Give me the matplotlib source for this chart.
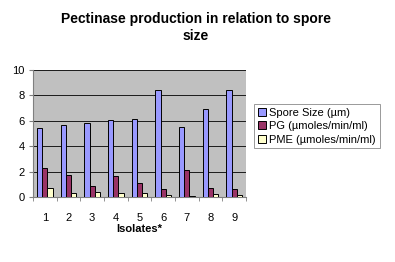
import matplotlib
matplotlib.use("Agg")
import matplotlib.pyplot as plt
import numpy as np

plt.rcParams['font.family'] = ['Liberation Sans', 'DejaVu Sans']

isolates = ['1', '2', '3', '4', '5', '6', '7', '8', '9']
spore_size = [5.45, 5.63, 5.81, 6.07, 6.18, 8.46, 5.5, 6.96, 8.46]
pg = [2.28, 1.73, 0.89, 1.62, 1.1, 0.6, 2.15, 0.73, 0.6]
pme = [0.68, 0.31, 0.39, 0.31, 0.31, 0.16, 0.08, 0.24, 0.16]
series_names = ['Spore Size (µm)', 'PG (µmoles/min/ml)', 'PME (µmoles/min/ml)']
colors = ['#9999ff', '#993366', '#ffffcc']

fig = plt.figure(figsize=(3.95, 2.62), dpi=100)
ax = fig.add_axes([33/395, 1 - 197/262, (246-33)/395, (197-70)/262])
ax.set_facecolor('#c0c0c0')

x = np.arange(len(isolates))
w = 0.22
for i, (vals, name, c) in enumerate(zip([spore_size, pg, pme], series_names, colors)):
    ax.bar(x + (i - 1) * w, vals, width=w, color=c, edgecolor='black', linewidth=0.7,
           label=name, zorder=3)

ax.set_xlim(-0.5, len(isolates) - 0.5)
ax.set_ylim(0, 10)
ax.set_yticks([0, 2, 4, 6, 8, 10])
ax.yaxis.grid(True, color='black', linewidth=0.6, zorder=0)
ax.set_axisbelow(True)
ax.set_xticks(x)
ax.set_xticklabels(isolates, fontsize=8)
ax.set_xticks(np.arange(len(isolates) + 1) - 0.5, minor=True)
ax.tick_params(axis='x', which='major', length=0, pad=11.5)
ax.tick_params(axis='x', which='minor', length=3, color='#808080')
ax.tick_params(axis='y', labelsize=8, length=3, color='#808080', pad=3)
for s in ['top', 'right']:
    ax.spines[s].set_visible(False)
ax.spines['left'].set_color('#808080')
ax.spines['bottom'].set_color('#808080')
ax.set_xlabel('Isolates*', fontsize=8, fontweight='bold', labelpad=1)

fig.text(0.495, 0.955, 'Pectinase production in relation to spore\nsize', ha='center', va='top',
         fontsize=10, fontweight='bold', linespacing=1.25)

leg = ax.legend(loc='upper left', bbox_to_anchor=(254/395, 1 - 104/262), bbox_transform=fig.transFigure,
                fontsize=8, frameon=True, fancybox=False, edgecolor='#808080', handlelength=0.7,
                handleheight=0.7, handletextpad=0.3, borderpad=0.35, labelspacing=0.3,
                borderaxespad=0)
leg.get_frame().set_linewidth(0.7)

fig.savefig('out.png', dpi=100)
